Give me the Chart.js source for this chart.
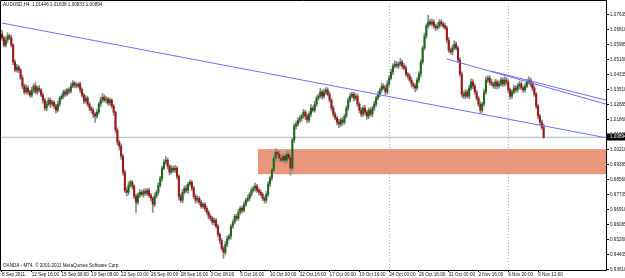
<!DOCTYPE html>
<html>
<head>
<meta charset="utf-8">
<script src="https://cdn.jsdelivr.net/npm/chart.js@4.4.1/dist/chart.umd.min.js"></script>
<style>
  html, body { margin: 0; padding: 0; background: #fff; }
</style>
</head>
<body>
<canvas id="chart" width="625" height="278"></canvas>
<script>
const headerText = "AUDUSD,H4  1.01446 1.01638 1.00833 1.00894";
const footerText = "OANDA - MT4, \u00a9 2001-2011 MetaQuotes Software Corp.";

// H4 closes, one row per 16 bars (one date label step)
const firstOpen = 1.0659;
const closes = [
  1.0637, 1.0598, 1.0626, 1.0648, 1.0637, 1.0598, 1.0504, 1.0460, 1.0476, 1.0460, 1.0416, 1.0372, 1.0339, 1.0361, 1.0339, 1.0322,
  1.0350, 1.0372, 1.0339, 1.0361, 1.0350, 1.0322, 1.0294, 1.0250, 1.0272, 1.0294, 1.0272, 1.0283, 1.0261, 1.0239, 1.0272, 1.0305,
  1.0316, 1.0339, 1.0327, 1.0350, 1.0344, 1.0372, 1.0388, 1.0377, 1.0372, 1.0383, 1.0350, 1.0322, 1.0289, 1.0305, 1.0272, 1.0250,
  1.0239, 1.0217, 1.0206, 1.0228, 1.0272, 1.0294, 1.0311, 1.0294, 1.0300, 1.0278, 1.0294, 1.0261, 1.0228, 1.0129, 1.0063, 1.0040,
  0.9985, 0.9897, 0.9797, 0.9786, 0.9825, 0.9842, 0.9820, 0.9764, 0.9731, 0.9770, 0.9786, 0.9775, 0.9792, 0.9781, 0.9797, 0.9770,
  0.9753, 0.9720, 0.9764, 0.9786, 0.9825, 0.9864, 0.9919, 0.9952, 0.9963, 0.9930, 0.9897, 0.9919, 0.9908, 0.9919, 0.9875, 0.9764,
  0.9742, 0.9786, 0.9809, 0.9797, 0.9831, 0.9842, 0.9809, 0.9764, 0.9742, 0.9753, 0.9731, 0.9709, 0.9720, 0.9698, 0.9676, 0.9654,
  0.9643, 0.9621, 0.9632, 0.9599, 0.9555, 0.9521, 0.9477, 0.9455, 0.9499, 0.9532, 0.9544, 0.9599, 0.9621, 0.9654, 0.9643, 0.9676,
  0.9698, 0.9687, 0.9720, 0.9742, 0.9753, 0.9775, 0.9797, 0.9809, 0.9820, 0.9797, 0.9786, 0.9775, 0.9753, 0.9742, 0.9775, 0.9831,
  0.9864, 0.9908, 0.9974, 1.0007, 0.9996, 0.9974, 0.9963, 0.9985, 0.9963, 0.9996, 0.9974, 0.9919, 1.0074, 1.0151, 1.0162, 1.0184,
  1.0195, 1.0206, 1.0228, 1.0206, 1.0184, 1.0217, 1.0250, 1.0239, 1.0272, 1.0305, 1.0316, 1.0339, 1.0316, 1.0339, 1.0350, 1.0327,
  1.0294, 1.0250, 1.0217, 1.0195, 1.0173, 1.0162, 1.0184, 1.0173, 1.0206, 1.0250, 1.0294, 1.0316, 1.0327, 1.0305, 1.0316, 1.0272,
  1.0239, 1.0217, 1.0250, 1.0228, 1.0206, 1.0239, 1.0217, 1.0250, 1.0272, 1.0305, 1.0327, 1.0350, 1.0372, 1.0361, 1.0339, 1.0383,
  1.0416, 1.0449, 1.0482, 1.0493, 1.0482, 1.0493, 1.0504, 1.0482, 1.0471, 1.0438, 1.0427, 1.0405, 1.0383, 1.0372, 1.0361, 1.0405,
  1.0438, 1.0504, 1.0581, 1.0648, 1.0703, 1.0725, 1.0714, 1.0725, 1.0703, 1.0692, 1.0703, 1.0725, 1.0714, 1.0703, 1.0692, 1.0626,
  1.0570, 1.0559, 1.0581, 1.0603, 1.0581, 1.0515, 1.0438, 1.0327, 1.0316, 1.0339, 1.0316, 1.0361, 1.0394, 1.0372, 1.0339, 1.0305,
  1.0272, 1.0239, 1.0272, 1.0339, 1.0405, 1.0416, 1.0394, 1.0383, 1.0372, 1.0394, 1.0372, 1.0383, 1.0405, 1.0383, 1.0405, 1.0394,
  1.0350, 1.0316, 1.0339, 1.0361, 1.0350, 1.0372, 1.0383, 1.0361, 1.0350, 1.0372, 1.0394, 1.0405, 1.0383, 1.0361, 1.0327, 1.0261,
  1.0206, 1.0173, 1.01446, 1.00894
];
// wick lengths in pips above the body top / below the body bottom
const upperWick = [
  20,12,15,18,10,14,8,12,16,10,8,14,10,18,12,9,
  15,12,20,10,14,8,12,10,16,14,12,10,8,12,15,10,
  12,10,14,9,12,16,14,10,12,8,10,12,9,14,10,12,
  10,12,8,14,10,16,20,12,15,10,12,8,10,6,12,10,
  14,10,12,16,20,12,10,8,14,12,16,10,12,14,10,12,
  10,8,16,12,14,10,12,15,20,12,10,14,12,16,10,8,
  14,16,12,18,10,12,9,10,12,14,10,12,8,10,12,10,
  12,10,14,10,12,8,10,12,16,14,12,10,14,12,10,16,
  10,12,14,12,16,10,14,12,18,10,12,14,10,12,16,14,
  12,10,14,20,12,16,10,14,12,18,14,12,10,14,16,12,
  14,12,16,10,12,14,20,12,16,14,12,20,10,16,14,12,
  12,10,14,12,10,16,12,14,10,12,14,16,12,10,14,12,
  10,14,12,16,10,12,14,10,16,12,14,10,16,12,14,18,
  14,16,12,18,14,12,20,10,14,12,10,12,14,10,12,14,
  12,14,10,16,12,38,14,16,12,10,18,14,12,10,14,12,
  14,12,16,18,12,10,14,12,16,14,12,16,18,14,12,10,
  12,14,10,16,18,12,14,16,10,14,12,16,14,12,18,14,
  12,10,14,16,12,14,16,12,10,14,16,18,12,10,12,10,
  12,10,12,19
];
const lowerWick = [
  14,10,12,16,10,12,14,10,12,14,10,16,12,10,14,12,
  12,16,10,14,12,10,16,12,14,10,20,12,14,16,10,12,
  10,14,12,10,16,12,10,14,12,10,16,12,14,10,12,14,
  16,20,33,12,10,14,12,10,16,12,14,12,18,14,16,20,
  18,16,12,20,14,12,16,14,55,12,14,10,16,12,14,12,
  14,44,12,10,14,12,16,10,12,14,16,10,12,14,16,20,
  12,14,10,12,16,10,14,12,16,12,14,10,12,14,12,16,
  14,12,16,10,14,18,12,33,14,12,10,16,12,10,14,12,
  12,14,10,12,10,14,12,10,16,12,14,10,12,16,14,12,
  14,12,10,16,12,14,12,10,16,14,12,38,14,12,16,12,
  14,16,12,18,16,12,14,10,12,14,12,10,16,12,14,10,
  12,16,14,10,16,20,14,16,12,10,14,12,10,16,12,14,
  16,14,12,16,18,14,12,16,14,12,10,14,12,10,14,12,
  12,10,14,12,10,14,12,16,10,12,14,10,16,14,20,12,
  14,16,12,10,14,12,10,12,14,16,10,12,14,12,10,16,
  14,12,16,10,12,14,12,16,14,12,10,14,12,16,14,12,
  14,16,12,10,12,14,16,10,12,14,16,12,10,14,12,16,
  14,16,12,10,14,12,16,10,14,12,10,12,14,16,12,14,
  16,14,12,6
];

const dateTicks = [0, 16, 32, 48, 64, 80, 96, 112, 128, 144, 160, 176, 192, 208, 224, 240, 256, 272, 288];
const dateLabels = ["8 Sep 2011", "12 Sep 16:00", "15 Sep 08:00", "19 Sep 08:00", "22 Sep 00:00", "26 Sep 00:00",
  "28 Sep 16:00", "3 Oct 08:00", "5 Oct 16:00", "10 Oct 00:00", "12 Oct 16:00", "17 Oct 00:00", "19 Oct 16:00",
  "24 Oct 00:00", "26 Oct 16:00", "31 Oct 00:00", "2 Nov 16:00", "6 Nov 20:00", "9 Nov 12:00"];
const separatorBars = [208, 272];

const priceTicks = [1.07635, 1.06810, 1.05985, 1.05160, 1.04335, 1.03510, 1.02685, 1.01860, 1.01035,
  1.00210, 0.99385, 0.98560, 0.97735, 0.96910, 0.96085, 0.95260, 0.94435, 0.93610];
const lastPrice = 1.00894;

// trend lines: [bar, price] pairs
const trendLong = [[0, 1.0719], [324.5, 1.0087]];
const trendUpperA = [[239, 1.0521], [324.5, 1.0272]];
const trendUpperB = [[263, 1.0454], [324.5, 1.0294]];
// rectangle zone: start bar, top price, bottom price
const zoneStart = 137.5;
const zoneTop = 1.0024;
const zoneBottom = 0.9886;

const xMin = -1.07, xMax = 324.5;
const yMin = 0.9358, yMax = 1.0846;

// build candles
const bodies = [], wicks = [], bodyColors = [];
closes.forEach((c, i) => {
  const o = i === 0 ? firstOpen : closes[i - 1];
  const top = Math.max(o, c), bot = Math.min(o, c);
  bodies.push({ x: i, y: [bot, top] });
  wicks.push({ x: i, y: [bot - lowerWick[i] / 10000, top + upperWick[i] / 10000] });
  bodyColors.push(c >= o ? "#1d6a1d" : "#9e1717");
});

const toPoints = arr => arr.map(p => ({ x: p[0], y: p[1] }));

const mtPlugin = {
  id: "mtPlugin",
  beforeDatasetsDraw(chart) {
    const { ctx, chartArea, scales: { x, y } } = chart;
    ctx.save();
    // separators
    ctx.strokeStyle = "#b4b4b4";
    ctx.setLineDash([1, 2]);
    ctx.lineWidth = 1;
    separatorBars.forEach(b => {
      const px = Math.round(x.getPixelForValue(b)) + 0.5;
      ctx.beginPath();
      ctx.moveTo(px, chartArea.top);
      ctx.lineTo(px, chartArea.bottom);
      ctx.stroke();
    });
    ctx.setLineDash([]);
    // zone
    const x0 = x.getPixelForValue(zoneStart);
    const yt = y.getPixelForValue(zoneTop), yb = y.getPixelForValue(zoneBottom);
    ctx.fillStyle = "#e9967a";
    ctx.fillRect(x0, yt, chartArea.right - x0, yb - yt);
    ctx.restore();
  },
  afterDraw(chart) {
    const { ctx, chartArea, scales: { y } } = chart;
    ctx.save();
    ctx.strokeStyle = "#000";
    ctx.lineWidth = 1;
    ctx.beginPath();
    ctx.moveTo(chartArea.left + 0.5, chartArea.bottom);
    ctx.lineTo(chartArea.left + 0.5, chartArea.top + 0.5);
    ctx.lineTo(chartArea.right, chartArea.top + 0.5);
    ctx.stroke();
    ctx.font = '4.6px "Liberation Sans"';
    ctx.fillStyle = "#111";
    ctx.textBaseline = "middle";
    ctx.fillText(headerText, 3, 5);
    ctx.fillText(footerText, 3, 266);
    // current price box
    const py = Math.round(y.getPixelForValue(lastPrice));
    ctx.fillStyle = "#000";
    ctx.fillRect(chartArea.right + 1, py - 3.5, 20, 7);
    ctx.fillStyle = "#fff";
    ctx.fillText(lastPrice.toFixed(5), chartArea.right + 4, py);
    ctx.restore();
  }
};

new Chart(document.getElementById("chart"), {
  type: "bar",
  data: {
    datasets: [
      {
        type: "line",
        data: toPoints(trendLong),
        borderColor: "#6f6ff2",
        borderWidth: 1,
        pointRadius: 0,
        order: 0
      },
      {
        type: "line",
        data: toPoints(trendUpperA),
        borderColor: "#6f6ff2",
        borderWidth: 1,
        pointRadius: 0,
        order: 0
      },
      {
        type: "line",
        data: toPoints(trendUpperB),
        borderColor: "#6f6ff2",
        borderWidth: 1,
        pointRadius: 0,
        order: 0
      },
      {
        data: bodies,
        backgroundColor: bodyColors,
        barThickness: 1.4,
        minBarLength: 1,
        grouped: false,
        order: 1
      },
      {
        data: wicks,
        backgroundColor: "#8a8a8a",
        barThickness: 1,
        grouped: false,
        order: 2
      },
      {
        type: "line",
        data: [{ x: xMin, y: lastPrice }, { x: xMax, y: lastPrice }],
        borderColor: "#a3b6c9",
        borderWidth: 1,
        pointRadius: 0,
        order: 3
      }
    ]
  },
  options: {
    responsive: false,
    animation: false,
    layout: { padding: 0 },
    plugins: {
      legend: { display: false },
      tooltip: { enabled: false }
    },
    scales: {
      x: {
        type: "linear",
        min: xMin,
        max: xMax,
        offset: false,
        afterBuildTicks: s => { s.ticks = dateTicks.map(v => ({ value: v })); },
        afterFit: s => { s.height = 8; s.paddingLeft = 0; s.paddingRight = 0; },
        ticks: {
          autoSkip: false,
          maxRotation: 0,
          align: "start",
          padding: 0,
          color: "#111",
          font: { family: "Liberation Sans", size: 4.6 },
          callback: v => dateLabels[dateTicks.indexOf(v)] || ""
        },
        grid: { drawOnChartArea: false, tickLength: 2, tickColor: "#000", offset: false },
        border: { color: "#000" }
      },
      y: {
        type: "linear",
        position: "right",
        min: yMin,
        max: yMax,
        afterBuildTicks: s => { s.ticks = priceTicks.map(v => ({ value: v })); },
        afterFit: s => { s.width = 19; s.paddingTop = 0; s.paddingBottom = 0; },
        ticks: {
          padding: 1,
          color: "#111",
          font: { family: "Liberation Sans", size: 4.6 },
          callback: v => v.toFixed(5)
        },
        grid: { drawOnChartArea: false, tickLength: 3, tickColor: "#000" },
        border: { color: "#000" }
      }
    }
  },
  plugins: [mtPlugin]
});
</script>
</body>
</html>
